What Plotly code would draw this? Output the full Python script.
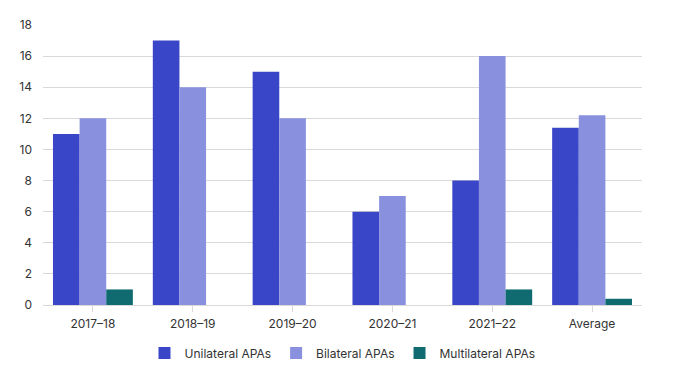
import plotly.graph_objects as go

categories = ["2017–18", "2018–19", "2019–20", "2020–21", "2021–22", "Average"]
unilateral = [11, 17, 15, 6, 8, 11.4]
bilateral = [12, 14, 12, 7, 16, 12.2]
multilateral = [1, 0, 0, 0, 1, 0.4]

series = [
    ("Unilateral APAs", unilateral, "#3a46c8"),
    ("Bilateral APAs", bilateral, "#8990de"),
    ("Multilateral APAs", multilateral, "#0f6b70"),
]

fig = go.Figure()
for name, vals, col in series:
    fig.add_trace(go.Bar(
        x=categories, y=vals, name=name,
        marker=dict(color=col, line=dict(width=0)),
    ))

fig.update_layout(
    width=681, height=372,
    margin=dict(l=35, r=47, t=17, b=75, autoexpand=False),
    barmode="group", bargap=0.2, bargroupgap=0,
    plot_bgcolor="white", paper_bgcolor="white",
    font=dict(family="Inter", size=12, color="#333333"),
    legend=dict(orientation="h", x=0.5, xanchor="center", y=-0.12, yanchor="top",
                font=dict(size=12, color="#333333"), itemwidth=30,
                tracegroupgap=0),
    showlegend=True,
    yaxis=dict(range=[0, 18], dtick=2, gridcolor="#d9d9d9", gridwidth=1,
               zeroline=False, showline=False, ticks="", ticklabelstandoff=10,
               tickfont=dict(size=12, color="#333333")),
    xaxis=dict(showline=True, linecolor="#d9d9d9", linewidth=1, ticks="outside",
               ticklen=6, tickcolor="#d9d9d9", ticklabelstandoff=2,
               tickfont=dict(size=12, color="#333333")),
)

fig.write_html("out.html")
